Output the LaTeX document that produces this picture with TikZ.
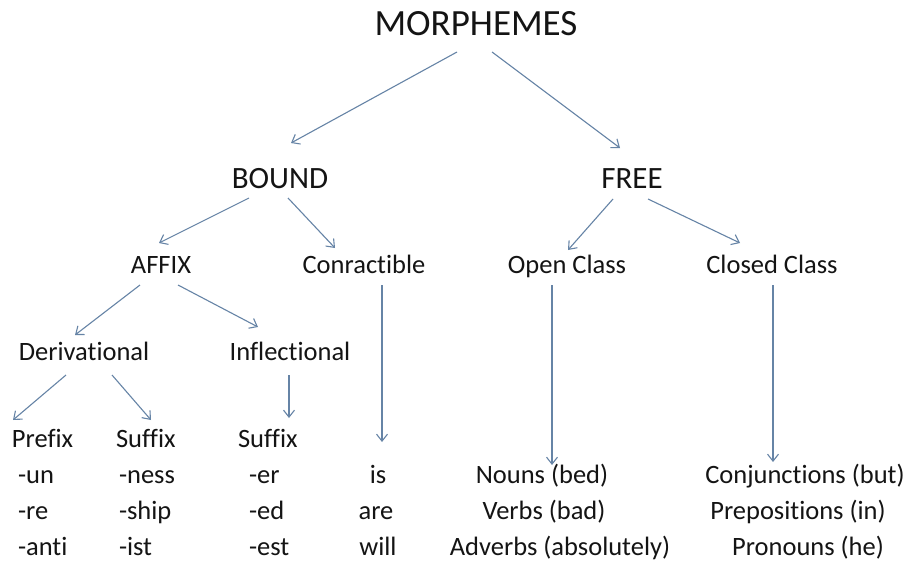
\documentclass[tikz,border=0pt]{standalone}
\usepackage{fontspec}
\setmainfont{Carlito}[Ligatures=CommonOff]
\usetikzlibrary{arrows.meta,calc}
\definecolor{linkblue}{RGB}{102,132,166}
\definecolor{inktext}{RGB}{20,20,20}
\tikzset{
  lbl/.style={inner sep=0pt,outer sep=0pt,text=inktext},
  top/.style={lbl,anchor=base,font=\fontsize{37}{40}\selectfont},
  lvl/.style={lbl,anchor=base,font=\fontsize{31}{34}\selectfont},
  sub/.style={lbl,anchor=base,font=\fontsize{26.5}{30}\selectfont},
  subw/.style={lbl,anchor=base west,font=\fontsize{26.5}{30}\selectfont},
  arr/.style={draw=linkblue,line width=1.1pt,-{Straight Barb[length=7pt,width=11pt,line width=1.1pt]}}
}
\begin{document}
\begin{tikzpicture}[x=1pt,y=-1pt]
\useasboundingbox (0,0) rectangle (912,562);
\fill[white] (0,0) rectangle (912,562);

% headings
\node[top] (m) at (476,35) {MORPHEMES};
\node[lvl] (b) at (280,188) {BOUND};
\node[lvl] (f) at (632,188) {FREE};
\node[sub] (a) at (161,273) {AFFIX};
\node[sub] (c) at (364,273) {Conractible};
\node[sub] (o) at (567,273) {Open Class};
\node[sub] (cl) at (772,273) {Closed Class};
\node[sub] (d) at (84,360) {Derivational};
\node[sub] (i) at (290,360) {Inflectional};
\node[subw] (p) at (12,447) {Prefix};
\node[subw] (s1) at (116,447) {Suffix};
\node[subw] (s2) at (238,447) {Suffix};

% examples
\node[subw] (un) at (18,483) {-un};
\node[subw] (re) at (18,519) {-re};
\node[subw] (anti) at (18,555) {-anti};
\node[subw] (ness) at (119,483) {-ness};
\node[subw] (ship) at (119,519) {-ship};
\node[subw] (ist) at (119,555) {-ist};
\node[subw] (er) at (249,483) {-er};
\node[subw] (ed) at (249,519) {-ed};
\node[subw] (est) at (249,555) {-est};
\node[sub] (is) at (378,483) {is};
\node[sub] (are) at (376,519) {are};
\node[sub] (will) at (378,555) {will};
\node[sub] (nouns) at (542,483) {Nouns (bed)};
\node[sub] (verbs) at (544,519) {Verbs (bad)};
\node[sub] (adv) at (560,555) {Adverbs (absolutely)};
\node[sub] (conj) at (805,483) {Conjunctions (but)};
\node[sub] (prep) at (798,519) {Prepositions (in)};
\node[sub] (pron) at (808,555) {Pronouns (he)};

% connectors
\draw[arr] ($(m.base)+(-19,17)$) -- ($(b.base)+(11,-45)$);
\draw[arr] ($(m.base)+(16,17)$) -- ($(f.base)+(-12,-40)$);
\draw[arr] ($(b.base)+(-31,10)$) -- ($(a.base)+(-2,-30)$);
\draw[arr] ($(b.base)+(8,10)$) -- ($(c.base)+(-29,-25)$);
\draw[arr] ($(f.base)+(-19,11)$) -- ($(o.base)+(1,-23)$);
\draw[arr] ($(f.base)+(16,11)$) -- ($(cl.base)+(-32,-30)$);
\draw[arr] ($(a.base)+(-21,12)$) -- ($(d.base)+(-9,-25)$);
\draw[arr] ($(a.base)+(17,12)$) -- ($(i.base)+(-32,-33)$);
\draw[arr] ($(d.base)+(-18,15)$) -- ($(p.base west)+(1,-27)$);
\draw[arr] ($(d.base)+(28,15)$) -- ($(s1.base west)+(35,-27)$);
\draw[arr] ($(i.base)+(-1,15)$) -- ($(s2.base west)+(51,-29)$);
\draw[arr] ($(c.base)+(18,12)$) -- ($(is.base)+(4,-41)$);
\draw[arr] ($(o.base)+(-15,12)$) -- ($(nouns.base)+(10,-18)$);
\draw[arr] ($(cl.base)+(1,12)$) -- ($(conj.base)+(-32,-21)$);
\end{tikzpicture}
\end{document}
